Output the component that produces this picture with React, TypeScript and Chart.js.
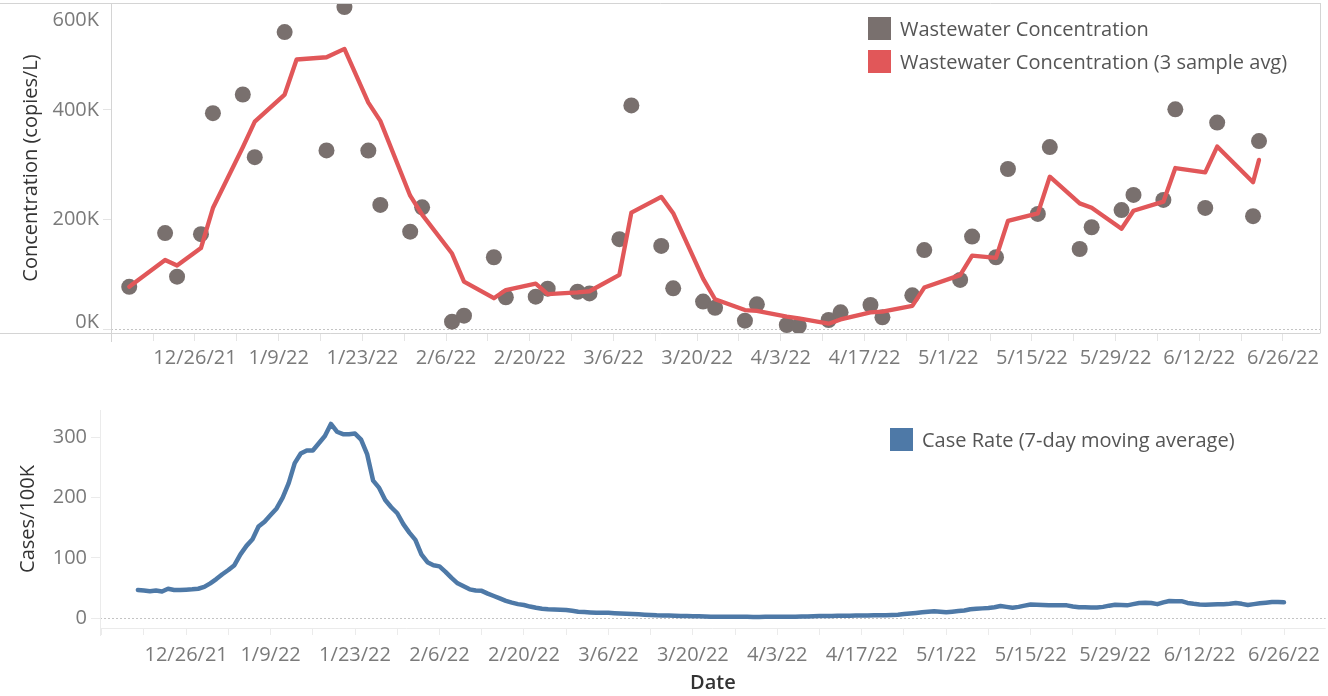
import React, { useEffect, useRef } from 'react';
import { Chart, registerables } from 'chart.js';
Chart.register(...registerables);

const FONT = "'Open Sans', sans-serif";
const GRAY = '#79706e';
const RED = '#e15759';
const BLUE = '#4e79a7';

// x values are days counted from 12/12/21
const wwDays = [3, 9, 11, 15, 17, 22, 24, 29, 31, 36, 39, 43, 45, 50, 52, 57, 59, 64, 66, 71, 73, 78, 80, 85, 87, 92, 94, 99, 101, 106, 108, 113, 115, 120, 122, 127, 129, 134, 136, 142, 144, 148, 150, 155, 157, 162, 164, 169, 171, 176, 178, 183, 185, 191, 192];
const wwConcentration = [77000, 175000, 95500, 173000, 394000, 428000, 313600, 542000, 620000, 326000, 587600, 325700, 226500, 177700, 222000, 13400, 24300, 131000, 58000, 59000, 73600, 68000, 65000, 164000, 408000, 151600, 74300, 50000, 38700, 15200, 45000, 7300, 5500, 16400, 30400, 43800, 21300, 61500, 144000, 89500, 168600, 131000, 292000, 210000, 332000, 146000, 185700, 217000, 244700, 235600, 401000, 221000, 376800, 206000, 343000];
const wwAvg3 = [77000, 126000, 115800, 147800, 220800, 331700, 378500, 427900, 491900, 496000, 511200, 413100, 379900, 243300, 208700, 137700, 86600, 56200, 71100, 82700, 63500, 66900, 68900, 99000, 212300, 241200, 211300, 92000, 54300, 34600, 33000, 22500, 19300, 9700, 17400, 30200, 31800, 42200, 75600, 98300, 134000, 129700, 197200, 211000, 278000, 229300, 221200, 182900, 215800, 232400, 293800, 285900, 333000, 267900, 308600];

const caseStartDay = 6;
const caseRate = [
  47, 46, 45, 46, 44.5, 49, 47, 47, 47.5, 48,
  49, 52, 58, 65, 73, 80, 88, 106, 120, 131,
  152, 160, 171, 182, 200, 224, 257, 273, 278, 278,
  290, 302, 322, 309, 305, 305, 306, 296, 272, 228,
  216, 196, 184, 174, 156, 142, 130, 106, 93, 88,
  86, 77, 67, 58, 53, 48, 46, 45.5, 41, 37,
  33, 29, 26, 23.5, 22, 19.5, 17.5, 16, 15, 14.5,
  14.2, 13.8, 12.5, 11, 10.5, 9.8, 9.3, 9.3, 9.2, 8.5,
  8, 7.5, 7.1, 6.6, 6, 5.5, 5, 4.8, 4.5, 4.2,
  4, 3.8, 3.5, 3.3, 3, 2.8, 2.7, 2.7, 2.6, 2.5,
  2.5, 2.5, 2.4, 2.4, 2.5, 2.5, 2.6, 2.6, 2.7, 2.8,
  3, 3.2, 3.5, 3.8, 4, 4, 4.2, 4.3, 4.4, 4.5,
  4.6, 4.8, 5, 5, 5.2, 5.6, 6, 7, 8, 9,
  10, 11, 11.6, 11, 10, 11, 12, 13, 15, 16,
  16.5, 17, 18.5, 20.4, 19, 17.6, 19, 21, 23, 22.5,
  22, 21.5, 21.5, 21.5, 21.5, 19.5, 18.2, 18.2, 18, 18,
  19, 21, 22.6, 22, 21.5, 23.5, 25.5, 26, 25.5, 23.5,
  26.5, 28.7, 28.5, 28.5, 25.5, 24, 23, 22.6, 22.8, 23.2,
  23.5, 24, 25.5, 24, 22, 23.5, 25, 26, 27, 27.2, 26.6,
];

const weekTickDays = [0, 7, 14, 21, 28, 35, 42, 49, 56, 63, 70, 77, 84, 91, 98, 105, 112, 119, 126, 133, 140, 147, 154, 161, 168, 175, 182, 189, 196];
const labelTickDays = [14, 28, 42, 56, 70, 84, 98, 112, 126, 140, 154, 168, 182, 196];
const labelTickText = ['12/26/21', '1/9/22', '1/23/22', '2/6/22', '2/20/22', '3/6/22', '3/20/22', '4/3/22', '4/17/22', '5/1/22', '5/15/22', '5/29/22', '6/12/22', '6/26/22'];

const topYTickValues = [0, 200000, 400000, 600000];
const topYTickText = ['0K', '200K', '400K', '600K'];
const bottomYTickValues = [0, 100, 200, 300];

const legendTop = ['Wastewater Concentration', 'Wastewater Concentration (3 sample avg)'];
const legendBottom = ['Case Rate (7-day moving average)'];

const dateLabel = (v: number) => {
  const i = labelTickDays.indexOf(v);
  return i >= 0 ? labelTickText[i] : '';
};

const zeroLine = (chart: any) => {
  const { ctx, chartArea: a, scales } = chart;
  const y0 = Math.round(scales.y.getPixelForValue(0)) + 0.5;
  ctx.save();
  ctx.strokeStyle = '#c4c4c4';
  ctx.lineWidth = 1;
  ctx.setLineDash([2, 2]);
  ctx.beginPath();
  ctx.moveTo(a.left, y0);
  ctx.lineTo(a.right, y0);
  ctx.stroke();
  ctx.restore();
};

const drawLegend = (ctx: CanvasRenderingContext2D, x: number, y: number, items: string[], colors: string[]) => {
  ctx.save();
  ctx.font = `20px ${FONT}`;
  ctx.textAlign = 'left';
  ctx.textBaseline = 'middle';
  items.forEach((t, i) => {
    const yy = y + i * 33;
    ctx.fillStyle = colors[i];
    ctx.fillRect(x, yy, 23, 23);
    ctx.fillStyle = '#555';
    ctx.fillText(t, x + 32, yy + 13);
  });
  ctx.restore();
};

const topDecor = {
  id: 'topDecor',
  beforeDatasetsDraw(chart: any) {
    zeroLine(chart);
  },
  afterDraw(chart: any) {
    const { ctx, chartArea: a, scales } = chart;
    ctx.save();
    ctx.strokeStyle = '#d4d4d4';
    ctx.lineWidth = 1;
    ctx.beginPath();
    ctx.moveTo(0, a.top + 0.5);
    ctx.lineTo(a.right + 0.5, a.top + 0.5);
    ctx.moveTo(0, a.bottom + 0.5);
    ctx.lineTo(a.right + 0.5, a.bottom + 0.5);
    ctx.moveTo(a.right + 0.5, a.top);
    ctx.lineTo(a.right + 0.5, a.bottom);
    ctx.moveTo(a.left + 0.5, a.top);
    ctx.lineTo(a.left + 0.5, a.bottom + 9);
    ctx.stroke();
    ctx.font = `20px ${FONT}`;
    ctx.fillStyle = '#7a7a7a';
    ctx.textAlign = 'right';
    ctx.textBaseline = 'middle';
    topYTickValues.forEach((v, i) => {
      const py = Math.min(Math.max(scales.y.getPixelForValue(v), a.top + 17), a.bottom - 11);
      ctx.fillText(topYTickText[i], a.left - 12, py);
    });
    ctx.restore();
    drawLegend(ctx, 868, 17, legendTop, [GRAY, RED]);
  },
};

const bottomDecor = {
  id: 'bottomDecor',
  beforeDatasetsDraw(chart: any) {
    zeroLine(chart);
  },
  afterDraw(chart: any) {
    const { ctx, chartArea: a } = chart;
    ctx.save();
    ctx.strokeStyle = '#ebebeb';
    ctx.lineWidth = 1;
    ctx.beginPath();
    ctx.moveTo(a.left + 0.5, a.top);
    ctx.lineTo(a.left + 0.5, a.bottom + 8);
    ctx.moveTo(a.left, a.bottom + 0.5);
    ctx.lineTo(a.right, a.bottom + 0.5);
    ctx.stroke();
    ctx.restore();
    drawLegend(ctx, 890, 48, legendBottom, [BLUE]);
  },
};

export default function App() {
  const topRef = useRef<HTMLCanvasElement>(null);
  const botRef = useRef<HTMLCanvasElement>(null);

  useEffect(() => {
    Chart.defaults.font.family = FONT;
    const tickGrid = { drawOnChartArea: false, drawTicks: true, color: '#e4e4e4' };

    const top = new Chart(topRef.current as HTMLCanvasElement, {
      type: 'scatter',
      data: {
        datasets: [
          {
            type: 'line',
            label: legendTop[1],
            data: wwDays.map((d, i) => ({ x: d, y: wwAvg3[i] })),
            borderColor: RED,
            backgroundColor: RED,
            borderWidth: 4.3,
            pointRadius: 0,
            tension: 0,
            borderJoinStyle: 'round',
            borderCapStyle: 'round',
            order: 0,
          } as any,
          {
            type: 'scatter',
            label: legendTop[0],
            data: wwDays.map((d, i) => ({ x: d, y: wwConcentration[i] })),
            backgroundColor: GRAY,
            borderWidth: 0,
            pointRadius: 8,
            order: 1,
          } as any,
        ],
      },
      options: {
        animation: false,
        responsive: false,
        layout: { autoPadding: false, padding: { top: 3, right: 8, left: 0, bottom: 0 } },
        plugins: { legend: { display: false }, tooltip: { enabled: false } },
        scales: {
          x: {
            type: 'linear',
            min: -0.05,
            max: 202.2,
            afterBuildTicks: (s: any) => { s.ticks = weekTickDays.map((v) => ({ value: v })); },
            afterFit: (s: any) => { s.height = 39; },
            ticks: { autoSkip: false, maxRotation: 0, padding: 5, color: '#7a7a7a', font: { size: 20 }, callback: (v: any) => dateLabel(v) },
            grid: { ...tickGrid, tickLength: 8 },
            border: { display: false },
          },
          y: {
            min: -7300,
            max: 595000,
            afterBuildTicks: (s: any) => { s.ticks = topYTickValues.filter((v) => v <= 595000).map((v) => ({ value: v })); },
            afterFit: (s: any) => { s.width = 111; },
            ticks: { display: false },
            grid: { ...tickGrid, tickLength: 8 },
            border: { display: false },
            title: { display: true, text: 'Concentration (copies/L)', color: '#333', font: { size: 20 }, padding: { top: 19, bottom: 0 } },
          },
        },
      } as any,
      plugins: [topDecor],
    });

    const bot = new Chart(botRef.current as HTMLCanvasElement, {
      type: 'line',
      data: {
        datasets: [
          {
            label: legendBottom[0],
            data: caseRate.map((v, i) => ({ x: caseStartDay + i, y: v })),
            borderColor: BLUE,
            backgroundColor: BLUE,
            borderWidth: 4.5,
            pointRadius: 0,
            tension: 0,
            borderJoinStyle: 'round',
            borderCapStyle: 'round',
          } as any,
        ],
      },
      options: {
        animation: false,
        responsive: false,
        layout: { autoPadding: false, padding: { top: 30, right: 2, left: 0, bottom: 0 } },
        plugins: { legend: { display: false }, tooltip: { enabled: false } },
        scales: {
          x: {
            type: 'linear',
            min: -0.28,
            max: 202.9,
            afterBuildTicks: (s: any) => { s.ticks = weekTickDays.map((v) => ({ value: v })); },
            afterFit: (s: any) => { s.height = 68; },
            ticks: { autoSkip: false, maxRotation: 0, padding: 8, color: '#7a7a7a', font: { size: 20 }, callback: (v: any) => dateLabel(v) },
            grid: { ...tickGrid, tickLength: 7, color: '#ebebeb' },
            border: { display: false },
            title: { display: true, text: 'Date', color: '#333', font: { size: 20, weight: '600' }, padding: { top: 0, bottom: 1 } },
          },
          y: {
            min: -16,
            max: 345,
            afterBuildTicks: (s: any) => { s.ticks = bottomYTickValues.map((v) => ({ value: v })); },
            afterFit: (s: any) => { s.width = 100; },
            ticks: { padding: 4, color: '#7a7a7a', font: { size: 20 }, callback: (v: any) => String(v) },
            grid: { ...tickGrid, tickLength: 9, color: '#ebebeb' },
            border: { display: false },
            title: { display: true, text: 'Cases/100K', color: '#333', font: { size: 20 }, padding: { top: 16.5, bottom: 0 } },
          },
        },
      } as any,
      plugins: [bottomDecor],
    });

    return () => {
      top.destroy();
      bot.destroy();
    };
  }, []);

  return (
    <div style={{ position: 'fixed', left: 0, top: 0, width: 1328, height: 696, background: '#fff', overflow: 'hidden' }}>
      <canvas ref={topRef} width={1328} height={372} style={{ position: 'absolute', left: 0, top: 0, width: 1328, height: 372 }} />
      <canvas ref={botRef} width={1328} height={316} style={{ position: 'absolute', left: 0, top: 380, width: 1328, height: 316 }} />
    </div>
  );
}
